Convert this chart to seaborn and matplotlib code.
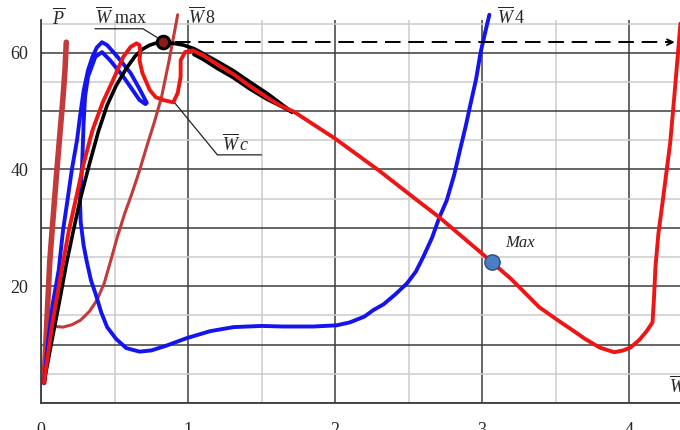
import numpy as np
import seaborn as sns
import matplotlib.pyplot as plt

# curve P (thick brown-red, almost vertical)
p_x = [0.02, 0.04, 0.06, 0.08, 0.105, 0.13, 0.15, 0.163, 0.172]
p_y = [3.5, 14, 24.4, 31, 39, 46.5, 52.4, 57, 61.8]

# curve W8 (thin brown-red)
w8_x = [0.02, 0.035, 0.05, 0.10, 0.15, 0.21, 0.27, 0.33, 0.38, 0.43, 0.47, 0.52,
        0.57, 0.62, 0.67, 0.72, 0.77, 0.82, 0.87, 0.93]
w8_y = [3.5, 10, 13.2, 13.1, 13.0, 13.4, 14.2, 15.7, 17.6, 20.5, 24.0, 28.5,
        32.5, 36.0, 39.8, 44.0, 48.0, 52.4, 58.5, 66.5]

# curve W4 (blue): loop near the top, dip, then the climb at the right
w4_x = [0.02, 0.05, 0.08, 0.12, 0.15, 0.18, 0.21, 0.245, 0.265, 0.29, 0.32, 0.35, 0.38,
        0.415, 0.45, 0.52, 0.61, 0.67, 0.72, 0.71, 0.67, 0.56, 0.47, 0.415, 0.37, 0.32,
        0.30, 0.29, 0.28, 0.265, 0.27, 0.29, 0.31, 0.34, 0.37, 0.41, 0.45, 0.51, 0.58,
        0.67, 0.75, 0.85, 0.99, 1.15, 1.31, 1.50, 1.65, 1.85, 2.01, 2.10, 2.20, 2.26,
        2.33, 2.41, 2.49, 2.55, 2.60, 2.66, 2.71, 2.76, 2.81, 2.85, 2.89, 2.92, 2.96,
        2.99, 3.02, 3.05]
w4_y = [3.5, 11, 17, 22.7, 29.6, 34.7, 40, 45, 49, 53.5, 57, 59.3, 60.9,
        61.8, 61.3, 59.3, 56.5, 53.8, 51.4, 51.2, 51.9, 55.9, 58.7, 60.1, 59.3, 55.9,
        52.5, 48, 41, 34.7, 31, 27, 24.4, 21, 18.8, 15.5, 13, 11, 9.4,
        8.8, 9.0, 9.8, 11.1, 12.3, 13.0, 13.2, 13.1, 13.1, 13.3, 13.8, 14.8, 15.9,
        16.9, 18.6, 20.5, 22.5, 25.0, 28.3, 31.8, 34.7, 39.0, 43.3, 47.5, 51.0, 55.5,
        60.0, 63.3, 66.5]

# curve W max (black), out along the top and back just under it
wmax_x = [0.02, 0.08, 0.13, 0.17, 0.22, 0.265, 0.33, 0.39, 0.45, 0.51, 0.58, 0.64,
          0.69, 0.74, 0.79, 0.83, 0.90, 0.97, 1.04, 1.10, 1.20, 1.31, 1.42, 1.54,
          1.63, 1.71, 1.62, 1.54, 1.42, 1.31, 1.20, 1.10, 1.04]
wmax_y = [3.5, 11.5, 18, 23.5, 29.5, 34.7, 41, 46.5, 51, 54.3, 57.3, 59.4,
          60.6, 61.3, 61.7, 61.8, 61.6, 61.3, 60.7, 59.9, 58.5, 56.9, 55.0, 53.0,
          51.3, 49.8, 51.0, 52.0, 53.8, 55.7, 57.3, 58.9, 59.7]

# curve Wc (red)
wc_x = [0.02, 0.08, 0.14, 0.19, 0.235, 0.29, 0.35, 0.42, 0.49, 0.56,
        0.61, 0.65, 0.67, 0.675, 0.67, 0.69, 0.74, 0.78, 0.83, 0.90, 0.93, 0.95, 0.95,
        0.98, 1.03, 1.10, 1.20, 1.31, 1.42, 1.54, 1.63, 1.72, 2.0, 2.3, 2.56, 2.71, 3.0,
        3.2, 3.39, 3.52, 3.62, 3.70, 3.80, 3.90, 3.96, 4.01, 4.07, 4.12, 4.16, 4.17,
        4.18, 4.20, 4.23, 4.28, 4.31, 4.35]
wc_y = [3.5, 14, 22.7, 29.6, 34.7, 41, 46.7, 51.5, 55.3, 59.3,
        61.0, 61.6, 61.3, 60, 58.7, 56.5, 53.6, 52.4, 51.9, 51.5, 53.1, 55.9, 58.7,
        60.1, 60.4, 59.6, 58.0, 56.3, 54.3, 52.3, 50.9, 49.9, 45.3, 39.8, 34.7, 31.8, 25.6,
        21.2, 16.4, 14.1, 12.4, 11.0, 9.5, 8.7, 9.0, 9.5, 10.8, 12.3, 13.8, 18.0,
        23.3, 29.0, 34.7, 44.5, 53.0, 65.0]

# special points
wmax_pt = (0.83, 61.8)
max_pt = (3.07, 24.1)

sns.set_style("white")
plt.rcParams["font.family"] = "Liberation Serif"
plt.rcParams["mathtext.fontset"] = "custom"
plt.rcParams["mathtext.rm"] = "Liberation Serif"
plt.rcParams["mathtext.it"] = "Liberation Serif:italic"

fig = plt.figure(figsize=(6.8, 4.3), dpi=100)
ax = fig.add_axes([41 / 680, 27 / 430, 639 / 680, 383 / 430])

brown = "#c23a3a"
red = "#ee1515"
blue = "#1414f0"
style = dict(sort=False, estimator=None, clip_on=False, ax=ax,
             solid_joinstyle="round", solid_capstyle="round")

sns.lineplot(x=w8_x, y=w8_y, color=brown, lw=2.2, **style)
sns.lineplot(x=p_x, y=p_y, color=brown, lw=4, **style)
sns.lineplot(x=w4_x, y=w4_y, color=blue, lw=2.8, **style)
sns.lineplot(x=wmax_x, y=wmax_y, color="black", lw=2.6, **style)
sns.lineplot(x=wc_x, y=wc_y, color=red, lw=2.8, **style)

# dashed arrow from W max to the right
ax.plot([wmax_pt[0] + 0.08, 4.30], [wmax_pt[1], wmax_pt[1]], color="black", lw=1.4,
        dashes=(8, 4), clip_on=False)
ax.annotate("", xy=(4.33, wmax_pt[1]), xytext=(4.25, wmax_pt[1]),
            arrowprops=dict(arrowstyle="->", color="black", lw=1.4), annotation_clip=False)

ax.plot(*wmax_pt, "o", ms=9, mfc="#8b1a1a", mec="black", mew=2.2, clip_on=False, zorder=5)
ax.plot(*max_pt, "o", ms=11, mfc="#4a7fc4", mec="#2c4a78", mew=1, zorder=5)

# leader lines
ax.plot([0.367, 0.694, 0.79], [64.1, 64.1, 62.6], color="#222222", lw=0.9, clip_on=False)
ax.plot([0.91, 1.20, 1.50], [51.4, 42.5, 42.5], color="#222222", lw=0.9)

fs = 13
ax.text(0.075, 66.0, r"$\overline{P}$", fontsize=fs, va="center")
ax.text(0.367, 66.0, r"$\overline{W}$ max", fontsize=fs, va="center")
ax.text(1.0, 66.0, r"$\overline{W}\,$8", fontsize=fs, va="center")
ax.text(3.10, 66.0, r"$\overline{W}\,$4", fontsize=fs, va="center")
ax.text(1.23, 44.3, r"$\overline{W}\,c$", fontsize=fs, va="center")
ax.text(3.16, 27.4, "Max", fontsize=12, style="italic", va="center")
ax.text(4.27, 3.0, r"$\overline{W}$", fontsize=fs, va="center", clip_on=False)

ax.set_xlim(0, 639 / 147)
ax.set_ylim(0, 65.6)
ax.set_xticks(np.arange(0, 5, 1))
ax.set_xticks(np.arange(0.5, 4.5, 1), minor=True)
ax.set_yticks(np.arange(0, 61, 10))
ax.set_yticks(np.arange(5, 66, 10), minor=True)
ax.set_xticklabels(["0", "1", "2", "3", "4"], fontsize=fs)
ax.set_yticklabels(["", "", "20", "", "40", "", "60"], fontsize=fs)
ax.set_yticklabels([], minor=True)
ax.set_xticklabels([], minor=True)

ax.grid(which="major", color="#3c3c3c", lw=1.1)
ax.grid(which="minor", color="#cccccc", lw=1.1)
ax.set_axisbelow(True)
ax.tick_params(axis="y", which="major", length=8, color="#3c3c3c", width=1.1, pad=1)
ax.tick_params(axis="y", which="minor", length=8, color="#cccccc", width=1.1)
ax.tick_params(axis="x", which="major", length=4, color="#3c3c3c", width=1.1, pad=10)
ax.tick_params(axis="x", which="minor", length=4, color="#cccccc", width=1.1)
for s in ["top", "right"]:
    ax.spines[s].set_visible(False)
for s in ["left", "bottom"]:
    ax.spines[s].set_color("#3c3c3c")
    ax.spines[s].set_linewidth(1.3)

fig.savefig("out.png", dpi=100)
